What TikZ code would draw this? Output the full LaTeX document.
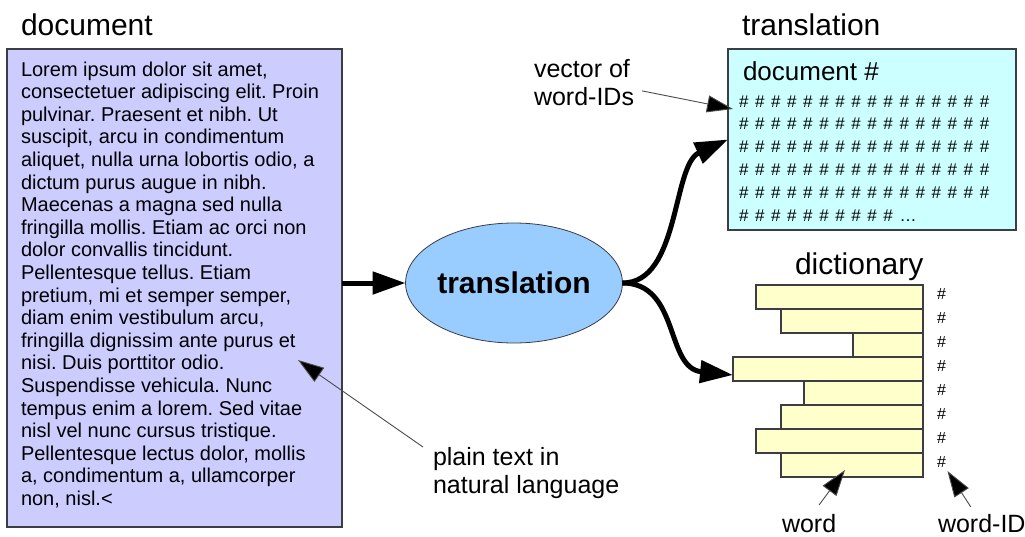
\documentclass[tikz,border=0pt]{standalone}
\usepackage{fontspec}
\setmainfont{Liberation Sans}
\usetikzlibrary{arrows.meta, shapes.geometric}

\definecolor{docfill}{HTML}{CCCCFF}
\definecolor{procfill}{HTML}{99CCFF}
\definecolor{vecfill}{HTML}{CCFFFF}
\definecolor{barfill}{HTML}{FFFFCC}
\definecolor{edge}{HTML}{3C3C44}

\frenchspacing
\begin{document}
\begin{tikzpicture}[x=1pt, y=-1pt,
  every node/.style={inner sep=0pt, outer sep=0pt},
  title/.style={anchor=base west, font=\fontsize{30}{34}\selectfont},
  note/.style={anchor=north west, align=left, font=\fontsize{25}{28}\selectfont},
  hashes/.style={anchor=base west, font=\fontsize{17}{20}\selectfont},
  idmark/.style={anchor=base west, font=\fontsize{16}{19}\selectfont},
  frame/.style={draw=edge, line width=1.2pt},
  bar/.style={frame, fill=barfill, anchor=north east, minimum height=24pt},
  thin arrow/.style={draw=black!70, line width=0.9pt, -{Triangle[length=26pt, width=17pt, fill=black]}},
  thick arrow/.style={line width=5pt, -{Triangle[length=33pt, width=22pt]}},
]
% page
\fill[white] (0,0) rectangle (1025,536);
\useasboundingbox (0,0) rectangle (1025,536);

% ---------- source document ----------
\node[title] (doctitle) at (21,35) {document};
\node[frame, fill=docfill, anchor=north west, minimum width=335pt, minimum height=478pt] (doc) at (7,49) {};
\node[anchor=north west, align=left, font=\fontsize{20}{22.6}\selectfont] (doctext) at (21,61.6) {%
Lorem ipsum dolor sit amet,\\
consectetuer adipiscing elit. Proin\\
pulvinar. Praesent et nibh. Ut\\
suscipit, arcu in condimentum\\
aliquet, nulla urna lobortis odio, a\\
dictum purus augue in nibh.\\
Maecenas a magna sed nulla\\
fringilla mollis. Etiam ac orci non\\
dolor convallis tincidunt.\\
Pellentesque tellus. Etiam\\
pretium, mi et semper semper,\\
diam enim vestibulum arcu,\\
fringilla dignissim ante purus et\\
nisi. Duis porttitor odio.\\
Suspendisse vehicula. Nunc\\
tempus enim a lorem. Sed vitae\\
nisl vel nunc cursus tristique.\\
Pellentesque lectus dolor, mollis\\
a, condimentum a, ullamcorper\\
non, nisl.<};

% ---------- translation step ----------
\node[ellipse, draw=edge, line width=0.8pt, fill=procfill, minimum width=216pt, minimum height=120pt,
      font=\bfseries\fontsize{30}{34}\selectfont] (proc) at (514,283) {translation};

% ---------- translated vector ----------
\node[title] (vectitle) at (742,35) {translation};
\node[frame, fill=vecfill, anchor=north west, minimum width=288pt, minimum height=181pt] (vec) at (728,49) {};
\node[anchor=base west, font=\fontsize{26}{30}\selectfont] (vechead) at (743,80) {document \#};
\begin{scope}[every node/.append style={hashes}]
  \node (r1) at (739,107.0) {\spaceskip=6.6pt\relax\# \# \# \# \# \# \# \# \# \# \# \# \# \# \# \#};
  \node (r2) at (739,129.9) {\spaceskip=6.6pt\relax\# \# \# \# \# \# \# \# \# \# \# \# \# \# \# \#};
  \node (r3) at (739,152.8) {\spaceskip=6.6pt\relax\# \# \# \# \# \# \# \# \# \# \# \# \# \# \# \#};
  \node (r4) at (739,175.7) {\spaceskip=6.6pt\relax\# \# \# \# \# \# \# \# \# \# \# \# \# \# \# \#};
  \node (r5) at (739,198.6) {\spaceskip=6.6pt\relax\# \# \# \# \# \# \# \# \# \# \# \# \# \# \# \#};
  \node (r6) at (739,221.5) {\spaceskip=6.6pt\relax\# \# \# \# \# \# \# \# \# \# \ldots};
\end{scope}
\node[note] (vecnote) at (534,59.7) {vector of\\word-IDs};
\coordinate (vectip) at (733,109);

% ---------- dictionary ----------
\node[title] (dicttitle) at (795,274) {dictionary};
\node[bar, minimum width=167pt] (b1) at (923,285) {};
\node[bar, minimum width=142pt] (b2) at (923,309) {};
\node[bar, minimum width=70pt]  (b3) at (923,333) {};
\node[bar, minimum width=190pt] (b4) at (923,357) {};
\node[bar, minimum width=119pt] (b5) at (923,381) {};
\node[bar, minimum width=142pt] (b6) at (923,405) {};
\node[bar, minimum width=167pt] (b7) at (923,429) {};
\node[bar, minimum width=142pt] (b8) at (923,453) {};
\node[idmark] (h1) at (937,299) {\#};
\node[idmark] (h2) at (937,323) {\#};
\node[idmark] (h3) at (937,347) {\#};
\node[idmark] (h4) at (937,371) {\#};
\node[idmark] (h5) at (937,395) {\#};
\node[idmark] (h6) at (937,419) {\#};
\node[idmark] (h7) at (937,443) {\#};
\node[idmark] (h8) at (937,467) {\#};
\node[anchor=base west, font=\fontsize{25}{28}\selectfont] (word) at (782,532) {word};
\node[anchor=base west, font=\fontsize{25}{28}\selectfont] (wordid) at (938,532) {word-ID};

% ---------- annotation on the source ----------
\node[note] (plain) at (433,447) {plain text in\\natural language};
\coordinate (plaintip) at (298,360);

% ---------- flow ----------
\draw[thick arrow] (doc.east |- proc) -- (proc.west);
\draw[thick arrow] (proc.east) .. controls (680,283) and (672,165) .. (vec.west);
\draw[thick arrow] (proc.east) .. controls (680,283) and (665,368) .. ([yshift=-6pt]b4.west);

% ---------- pointers ----------
\draw[thin arrow] ([xshift=-10pt]plain.north west) -- (plaintip);
\draw[thin arrow] ([xshift=8pt,yshift=-8pt]vecnote.east) -- (vectip);
\draw[thin arrow] ([xshift=10pt,yshift=9pt]word.north) -- ([xshift=-7pt,yshift=-5pt]b8.center);
\draw[thin arrow] ([xshift=-11pt,yshift=7pt]wordid.north) -- ([xshift=6pt,yshift=-4pt]h8.south);
\end{tikzpicture}
\end{document}
